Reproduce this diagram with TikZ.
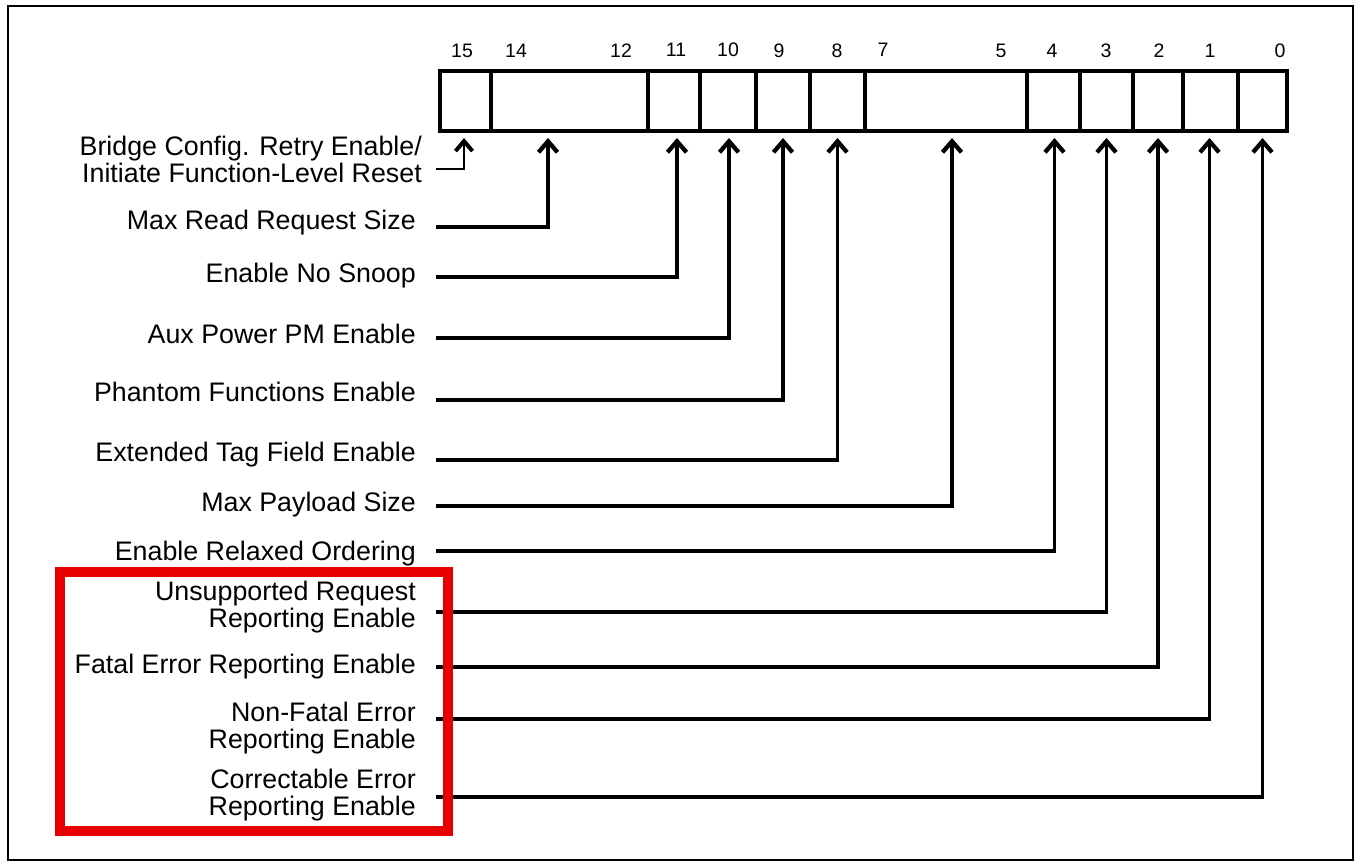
\documentclass[tikz,border=0pt]{standalone}
\usepackage{fontspec}
\setmainfont{Liberation Sans}
\usetikzlibrary{arrows.meta}
\definecolor{boxred}{RGB}{232,0,0}
\begin{document}
\begin{tikzpicture}[x=1pt,y=-1pt,
  cell/.style={draw, line width=4pt, inner sep=0pt, minimum height=59.5pt},
  bitnum/.style={font=\fontsize{19.5}{19.5}\selectfont, anchor=base, inner sep=0pt},
  lbl/.style={font=\fontsize{26.8}{26.8}\selectfont, align=right, anchor=base east, inner sep=0pt},
  conn/.style={line width=3.3pt, -{Straight Barb[length=11pt,width=19pt,line width=4.3pt]}, shorten >=5pt},
  thinconn/.style={line width=2pt, -{Straight Barb[length=10pt,width=17pt,line width=4pt]}, shorten >=5pt}
]
\useasboundingbox (0,0) rectangle (1360,867);
\draw[line width=2pt] (8,6) rectangle (1353,860);

% register cells
\node[cell, minimum width=51pt]  (b15) at (465.5,101.25) {};
\node[cell, minimum width=157pt] (b14) at (569.5,101.25) {};
\node[cell, minimum width=52pt]  (b11) at (674,101.25) {};
\node[cell, minimum width=56pt]  (b10) at (728,101.25) {};
\node[cell, minimum width=54pt]  (b9)  at (783,101.25) {};
\node[cell, minimum width=55pt]  (b8)  at (837.5,101.25) {};
\node[cell, minimum width=162pt] (b7)  at (946,101.25) {};
\node[cell, minimum width=53pt]  (b4)  at (1053.5,101.25) {};
\node[cell, minimum width=53pt]  (b3)  at (1106.5,101.25) {};
\node[cell, minimum width=50pt]  (b2)  at (1158,101.25) {};
\node[cell, minimum width=55pt]  (b1)  at (1210.5,101.25) {};
\node[cell, minimum width=49pt]  (b0)  at (1262.5,101.25) {};

% bit numbers
\node[bitnum] (n15) at (462,58) {15};
\node[bitnum] (n14) at (516,58) {14};
\node[bitnum] (n12) at (621,58) {12};
\node[bitnum] (n11) at (676,57) {11};
\node[bitnum] (n10) at (728,57) {10};
\node[bitnum] (n9)  at (779,58) {9};
\node[bitnum] (n8)  at (837,58) {8};
\node[bitnum] (n7)  at (883,57) {7};
\node[bitnum] (n5)  at (1001,58) {5};
\node[bitnum] (n4)  at (1052,58) {4};
\node[bitnum] (n3)  at (1106,58) {3};
\node[bitnum] (n2)  at (1159,58) {2};
\node[bitnum] (n1)  at (1210,58) {1};
\node[bitnum] (n0)  at (1280,58) {0};

% labels (multi-line labels anchored at the baseline of their last line)
\node[lbl] (l15) at (422,182) {Bridge Config. Retry Enable/\\Initiate Function-Level Reset};
\node[lbl] (l14) at (416,229) {Max Read Request Size};
\node[lbl] (l11) at (416,282) {Enable No Snoop};
\node[lbl] (l10) at (416,343) {Aux Power PM Enable};
\node[lbl] (l9)  at (416,401) {Phantom Functions Enable};
\node[lbl] (l8)  at (416,461) {Extended Tag Field Enable};
\node[lbl] (l7)  at (416,511) {Max Payload Size};
\node[lbl] (l4)  at (416,560) {Enable Relaxed Ordering};
\node[lbl] (l3)  at (416,627) {Unsupported Request\\Reporting Enable};
\node[lbl] (l2)  at (416,673) {Fatal Error Reporting Enable};
\node[lbl] (l1)  at (416,748) {Non-Fatal Error\\Reporting Enable};
\node[lbl] (l0)  at (416,815) {Correctable Error\\Reporting Enable};

% connector starts
\coordinate (s15) at (436,169);
\coordinate (s14) at (436,227);
\coordinate (s11) at (436,277);
\coordinate (s10) at (436,338);
\coordinate (s9)  at (436,400);
\coordinate (s8)  at (436,460);
\coordinate (s7)  at (436,506);
\coordinate (s4)  at (436,551);
\coordinate (s3)  at (436,612);
\coordinate (s2)  at (436,667);
\coordinate (s1)  at (436,719);
\coordinate (s0)  at (436,797);

% connectors
\draw[thinconn] (s15) -| ([xshift=-1.5pt]b15.south);
\draw[conn] (s14) -| ([xshift=-21.5pt]b14.south);
\draw[conn] (s11) -| ([xshift=3pt]b11.south);
\draw[conn] (s10) -| ([xshift=1pt]b10.south);
\draw[conn] (s9)  -| (b9.south);
\draw[conn] (s8)  -| (b8.south);
\draw[conn] (s7)  -| ([xshift=6pt]b7.south);
\draw[conn] (s4)  -| ([xshift=1pt]b4.south);
\draw[conn] (s3)  -| (b3.south);
\draw[conn] (s2)  -| (b2.south);
\draw[conn] (s1)  -| ([xshift=-1pt]b1.south);
\draw[conn] (s0)  -| (b0.south);

% highlight box
\draw[boxred, line width=10pt] (60,572) rectangle (448,831);
\end{tikzpicture}
\end{document}
